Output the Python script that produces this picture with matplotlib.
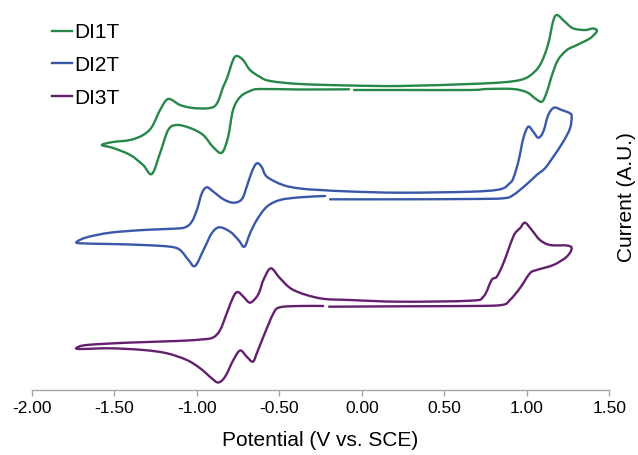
import matplotlib
matplotlib.use("Agg")
import matplotlib.pyplot as plt
import numpy as np
from matplotlib.path import Path
from matplotlib.patches import PathPatch
from matplotlib.lines import Line2D

plt.rcParams['font.family'] = ['Liberation Sans', 'DejaVu Sans']

# potential (V vs. SCE) and current (A.U., curves offset vertically)
# each loop starts just left of the small gap, runs left, round the left tip and back
di1t_v = [-0.077, -0.374, -0.616, -0.677, -0.737, -0.780, -0.810, -0.848, -0.901, -0.961,
          -1.040, -1.121, -1.173, -1.222, -1.272, -1.325, -1.403, -1.506, -1.575,
          -1.506, -1.403, -1.325, -1.272, -1.222, -1.173, -1.101, -1.022, -0.919, -0.876,
          -0.840, -0.816, -0.780, -0.757, -0.719, -0.677, -0.616, -0.555, -0.374, -0.071,
          0.232, 0.656, 0.856, 0.959, 1.019, 1.080, 1.128, 1.159, 1.183, 1.231, 1.280,
          1.353, 1.401, 1.425, 1.383, 1.304, 1.243, 1.189, 1.153, 1.122, 1.092, 1.050,
          1.001, 0.916, 0.759, 0.656, 0.232, -0.047]
di1t_i = [30.07, 30.05, 30.1, 29.9, 29.3, 28.0, 25.3, 23.73, 24.3, 25.5,
          26.2, 26.5, 26.0, 23.7, 21.6, 22.5, 23.5, 24.2, 24.5,
          24.8, 25.0, 25.5, 26.3, 28.0, 29.1, 28.5, 28.2, 28.2, 28.7,
          30.3, 31.2, 33.0, 33.4, 33.0, 32.0, 31.3, 30.9, 30.6, 30.45,
          30.4, 30.6, 30.77, 31.0, 31.43, 32.5, 34.5, 36.83, 37.5, 36.83, 36.17,
          36.0, 36.15, 35.9, 35.17, 34.5, 34.0, 33.0, 31.5, 29.83, 28.83, 29.17,
          29.77, 30.1, 30.1, 30.0, 30.0, 30.0]

di2t_v = [-0.222, -0.374, -0.495, -0.575, -0.636, -0.677, -0.711, -0.747, -0.798, -0.863,
          -0.909, -0.959, -1.010, -1.050, -1.101, -1.161, -1.323, -1.525, -1.706, -1.726,
          -1.666, -1.525, -1.323, -1.141, -1.070, -1.030, -0.999, -0.969, -0.939, -0.899,
          -0.838, -0.778, -0.727, -0.697, -0.666, -0.636, -0.606, -0.575, -0.477, -0.374,
          -0.253, -0.071, 0.232, 0.656, 0.838, 0.898, 0.918, 0.949, 0.979, 1.009, 1.039,
          1.070, 1.100, 1.130, 1.165, 1.211, 1.262, 1.272, 1.262, 1.221, 1.161, 1.110,
          1.060, 0.999, 0.918, 0.858, 0.656, 0.232, -0.192]
di2t_i = [19.4, 19.27, 19.0, 18.33, 17.0, 15.67, 14.33, 15.0, 15.83, 16.27,
          15.67, 14.0, 12.4, 13.0, 14.0, 14.33, 14.5, 14.6, 14.67, 14.83,
          15.27, 15.73, 16.0, 16.13, 16.27, 16.83, 18.0, 19.67, 20.27, 19.83,
          19.07, 18.73, 19.07, 20.33, 21.83, 22.67, 22.3, 21.33, 20.5, 20.15,
          20.0, 19.85, 19.73, 19.83, 20.07, 20.7, 21.17, 22.83, 25.17, 26.33, 25.83,
          25.23, 25.83, 27.5, 28.23, 28.0, 27.67, 27.33, 26.17, 24.83, 23.33, 22.17,
          21.5, 20.57, 19.5, 19.17, 19.1, 19.07, 19.07]

di3t_v = [-0.234, -0.374, -0.495, -0.535, -0.596, -0.636, -0.660, -0.697, -0.737, -0.778,
          -0.828, -0.869, -0.909, -0.979, -1.060, -1.181, -1.323, -1.525, -1.706, -1.726,
          -1.666, -1.423, -1.121, -0.959, -0.899, -0.858, -0.818, -0.778, -0.751, -0.717,
          -0.677, -0.636, -0.616, -0.596, -0.551, -0.495, -0.414, -0.253, -0.071, 0.232,
          0.656, 0.737, 0.787, 0.818, 0.858, 0.918, 0.947, 0.959, 0.989, 1.030, 1.080,
          1.141, 1.242, 1.272, 1.242, 1.161, 1.060, 1.019, 0.959, 0.898, 0.848, 0.656,
          0.232, -0.198]
di3t_i = [8.4, 8.4, 8.27, 7.67, 5.33, 3.67, 2.83, 3.33, 3.95, 3.0,
          1.33, 0.75, 1.17, 2.17, 3.0, 3.67, 4.0, 4.17, 4.1, 4.23,
          4.5, 4.73, 4.9, 5.07, 5.27, 6.0, 7.67, 9.33, 9.8, 9.33,
          8.73, 9.33, 10.0, 11.0, 12.17, 11.17, 10.0, 9.17, 9.0, 8.83,
          8.93, 9.33, 11.0, 11.33, 12.67, 15.33, 16.0, 16.17, 16.73, 16.0, 15.0,
          14.5, 14.45, 14.17, 13.33, 12.5, 12.0, 11.67, 10.2, 9.0, 8.5, 8.4,
          8.37, 8.33]

labels = ['DI1T', 'DI2T', 'DI3T']
colors = ['#27874A', '#3A58AA', '#64206E']
xticks = [-2.0, -1.5, -1.0, -0.5, 0.0, 0.5, 1.0, 1.5]


def smooth_path(x, y):
    # cubic bezier segments through the read points (catmull-rom tangents)
    p = np.column_stack([x, y])
    ext = np.vstack([p[0], p, p[-1]])
    verts = [p[0]]
    codes = [Path.MOVETO]
    for k in range(len(p) - 1):
        p0, p1, p2, p3 = ext[k], ext[k + 1], ext[k + 2], ext[k + 3]
        verts += [p1 + (p2 - p0) / 6, p2 - (p3 - p1) / 6, p2]
        codes += [Path.CURVE4] * 3
    return Path(verts, codes)


fig = plt.figure(figsize=(6.38, 4.55), dpi=100)
ax = fig.add_axes([31.7 / 638, 1 - 390 / 455, 577.6 / 638, 390 / 455])

handles = []
for v, i, lab, c in zip([di1t_v, di2t_v, di3t_v], [di1t_i, di2t_i, di3t_i], labels, colors):
    ax.add_patch(PathPatch(smooth_path(v, i), fill=False, edgecolor=c, lw=1.7,
                           joinstyle='round', capstyle='round'))
    handles.append(Line2D([], [], color=c, lw=1.7, label=lab))

ax.set_xlim(-2.0, 1.5)
ax.set_ylim(0, 39)
ax.set_xticks(xticks)
ax.set_xticklabels(['%.2f' % t for t in xticks])
ax.set_yticks([])
for s in ['top', 'right', 'left']:
    ax.spines[s].set_visible(False)
ax.spines['bottom'].set_color('#A6A6A6')
ax.spines['bottom'].set_linewidth(1.0)
ax.tick_params(axis='x', direction='out', length=4, width=1, color='#A6A6A6',
               labelsize=12.5, pad=4)

ax.set_xlabel('Potential (V vs. SCE)', fontsize=15, labelpad=11)
ax.set_ylabel('Current (A.U.)', fontsize=15, rotation=90)
ax.yaxis.label.set_rotation_mode('anchor')
ax.yaxis.label.set_va('center')
ax.yaxis.label.set_ha('center')
ax.yaxis.set_label_coords(1.029, 0.495)

ax.legend(handles=handles, loc='upper left', bbox_to_anchor=(52 / 638, 1 - 23 / 455),
          bbox_transform=fig.transFigure, frameon=False, fontsize=15,
          handlelength=0.95, handletextpad=0.1, labelspacing=0.66,
          borderpad=0, borderaxespad=0)

fig.savefig('out.png', dpi=100)
